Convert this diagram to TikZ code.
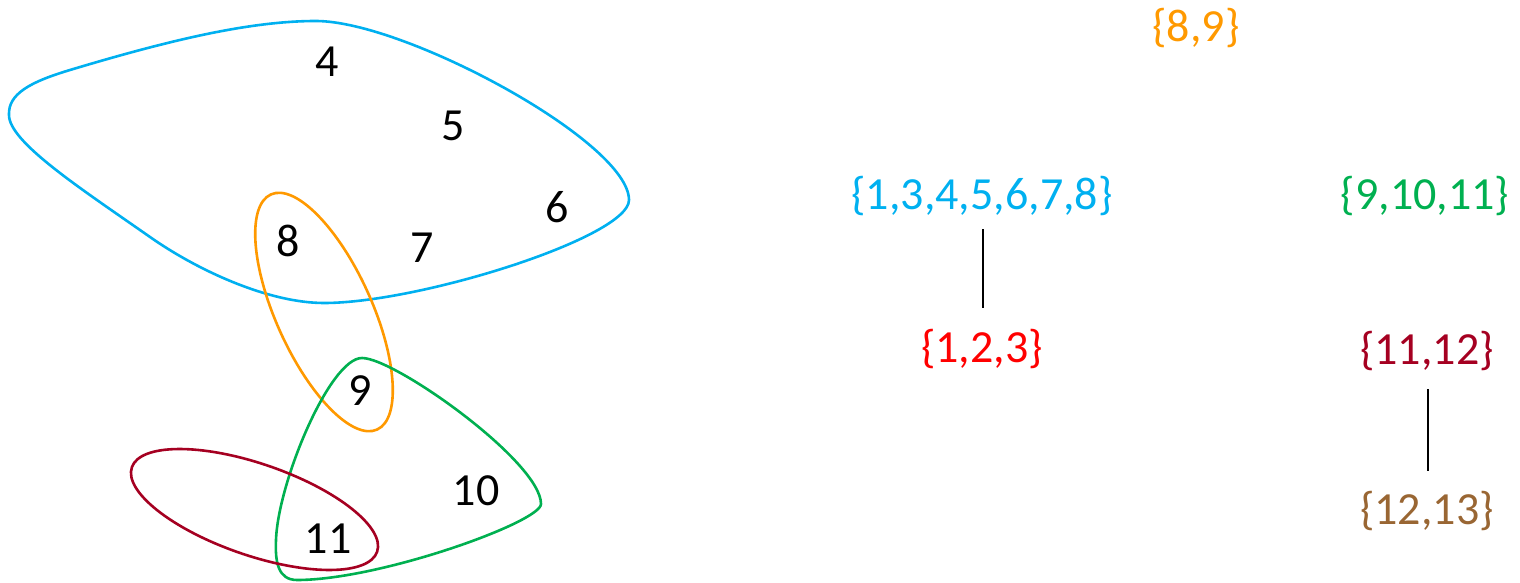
\documentclass[tikz,border=0pt]{standalone}
\usepackage{fontspec}
\setmainfont{Carlito}
\definecolor{cblue}{HTML}{00B0F0}
\definecolor{corange}{HTML}{FF9900}
\definecolor{cgreen}{HTML}{00B050}
\definecolor{cred}{HTML}{FF0000}
\definecolor{cdred}{HTML}{A50021}
\definecolor{cbrown}{HTML}{996633}
\begin{document}
\begin{tikzpicture}[x=1pt,y=1pt,
  lbl/.style={font=\fontsize{46}{56}\selectfont, text height=29pt, text depth=0pt, inner sep=0pt},
  hedge/.style={line width=2.6pt},
  tline/.style={line width=1.6pt, black}]
\useasboundingbox (0,0) rectangle (1520,582);
% hyperedges
\draw[hedge, cblue] (9,467) .. controls (8,488) and (30,500) .. (70,512)
  .. controls (170,542) and (250,561) .. (316,561)
  .. controls (405,561) and (629,440) .. (629,382)
  .. controls (629,345) and (420,279) .. (324,279)
  .. controls (270,279) and (200,310) .. (150,345)
  .. controls (80,394) and (9,440) .. cycle;
\draw[hedge, corange] (324,270) ellipse [x radius=129pt, y radius=48pt, rotate=-65.7];
\draw[hedge, cgreen] (362,224) .. controls (395,224) and (541,120) .. (541,78)
  .. controls (541,60) and (380,2) .. (297,2)
  .. controls (278,2) and (275,20) .. (276,42)
  .. controls (278,100) and (330,224) .. cycle;
\draw[hedge, cdred] (254.5,72.5) ellipse [x radius=129.7pt, y radius=45.8pt, rotate=-19];
% vertices
\node[lbl] (v4) at (327,520) {4};
\node[lbl] (v5) at (453,456) {5};
\node[lbl] (v6) at (557,374) {6};
\node[lbl] (v7) at (422,334) {7};
\node[lbl] (v8) at (288,340) {8};
\node[lbl] (v9) at (360,191) {9};
\node[lbl] (v10) at (476,91) {10};
\node[lbl] (v11) at (328,43) {11};
% tree
\node[lbl, corange] (s89) at (1196,555) {\{8,9\}};
\node[lbl, cblue] (sA) at (982,387) {\{1,3,4,5,6,7,8\}};
\node[lbl, cred] (sB) at (982,234) {\{1,2,3\}};
\node[lbl, cgreen] (sC) at (1425,387) {\{9,10,11\}};
\node[lbl, cdred] (sD) at (1427,232) {\{11,12\}};
\node[lbl, cbrown] (sE) at (1427,72) {\{12,13\}};
\draw[tline, shorten <=34pt, shorten >=40pt] ([xshift=1pt]sA.center) -- ([xshift=1pt]sB.center);
\draw[tline, shorten <=39pt, shorten >=39pt] ([xshift=1pt]sD.center) -- ([xshift=1pt]sE.center);
\end{tikzpicture}
\end{document}
